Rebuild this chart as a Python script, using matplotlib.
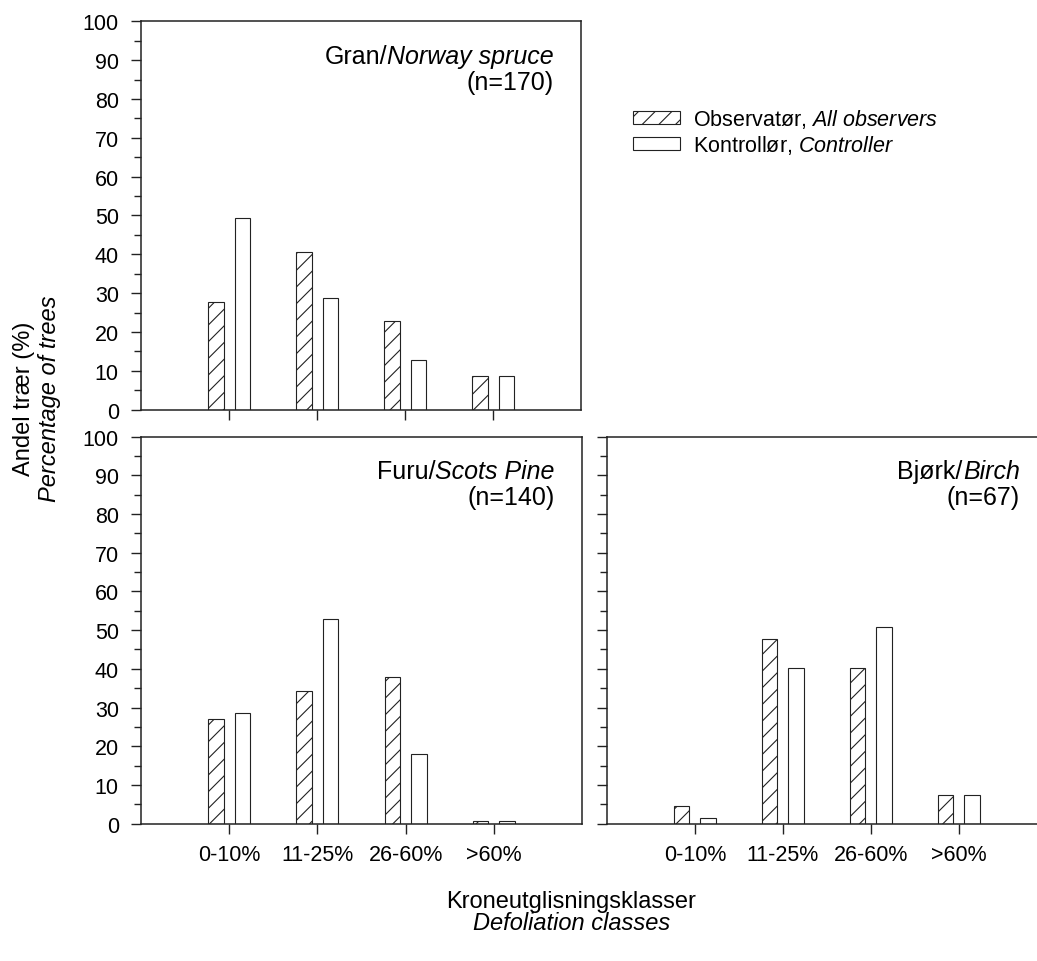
import matplotlib
matplotlib.use("Agg")
import matplotlib.pyplot as plt
from matplotlib.patches import Patch
from matplotlib.ticker import MultipleLocator

plt.rcParams["font.family"] = ["Liberation Sans", "DejaVu Sans"]
plt.rcParams["mathtext.fontset"] = "custom"
plt.rcParams["mathtext.rm"] = "Liberation Sans"
plt.rcParams["mathtext.it"] = "Liberation Sans:italic"
plt.rcParams["hatch.linewidth"] = 0.8
plt.rcParams["hatch.color"] = "#222222"

classes = ["0-10%", "11-25%", "26-60%", ">60%"]

# percentage of trees per defoliation class
spruce_obs = [27.6, 40.6, 22.9, 8.8]
spruce_ctrl = [49.4, 28.8, 12.9, 8.8]
pine_obs = [27.1, 34.3, 37.9, 0.7]
pine_ctrl = [28.6, 52.9, 17.9, 0.7]
birch_obs = [4.5, 47.8, 40.3, 7.5]
birch_ctrl = [1.5, 40.3, 50.7, 7.5]

species = [("Gran/", "Norway spruce", 170),
           ("Furu/", "Scots Pine", 140),
           ("Bjørk/", "Birch", 67)]

EDGE = "#222222"


def draw_panel(ax, obs, ctrl, name, latin, n, show_xlabels, show_ylabels):
    x = range(1, len(classes) + 1)
    ax.bar([i - 0.15 for i in x], obs, width=0.175, facecolor="white",
           edgecolor=EDGE, linewidth=0.8, hatch="//")
    ax.bar([i + 0.15 for i in x], ctrl, width=0.175, facecolor="white",
           edgecolor=EDGE, linewidth=0.8)
    ax.set_xlim(0, 5)
    ax.set_ylim(0, 100)
    ax.set_xticks(list(x))
    ax.set_xticklabels(classes if show_xlabels else [])
    ax.yaxis.set_major_locator(MultipleLocator(10))
    ax.yaxis.set_minor_locator(MultipleLocator(5))
    if not show_ylabels:
        ax.set_yticklabels([])
    ax.tick_params(axis="both", which="major", direction="out", length=7.5,
                   width=1.0, color=EDGE, labelsize=15.5, pad=8.5)
    ax.tick_params(axis="y", which="minor", direction="out", length=5,
                   width=1.0, color=EDGE)
    ax.tick_params(axis="x", pad=7)
    for s in ax.spines.values():
        s.set_linewidth(1.1)
        s.set_color(EDGE)

    # species name: Norwegian part upright, Latin/English part in italics
    t_it = ax.text(0.938, 0.881, latin, transform=ax.transAxes, ha="right",
                   va="bottom", fontsize=18, style="italic")
    ax.annotate(name, xy=(0, 0), xycoords=t_it, ha="right", va="bottom",
                fontsize=18)
    ax.text(0.938, 0.814, f"(n={n})", transform=ax.transAxes, ha="right",
            va="bottom", fontsize=18)


fig = plt.figure(figsize=(10.37, 9.62), dpi=100)
ax_top = fig.add_axes([0.136, 0.5731, 0.4243, 0.4037])
ax_bl = fig.add_axes([0.136, 0.1427, 0.4253, 0.4025])
ax_br = fig.add_axes([0.5853, 0.1427, 0.4243, 0.4025])

draw_panel(ax_top, spruce_obs, spruce_ctrl, *species[0], False, True)
draw_panel(ax_bl, pine_obs, pine_ctrl, *species[1], True, True)
draw_panel(ax_br, birch_obs, birch_ctrl, *species[2], True, False)

handles = [Patch(facecolor="white", edgecolor=EDGE, linewidth=0.8, hatch="//"),
           Patch(facecolor="white", edgecolor=EDGE, linewidth=0.8)]
labels = [r"Observatør, $\mathit{All\ observers}$",
          r"Kontrollør, $\mathit{Controller}$"]
fig.legend(handles, labels, loc="upper left", bbox_to_anchor=(0.610, 0.888),
           frameon=False, fontsize=15.5, handlelength=2.2, handleheight=0.55,
           handletextpad=0.6, labelspacing=0.15, borderpad=0, borderaxespad=0)

fig.text(0.023, 0.585, "Andel trær (%)", rotation=90, ha="center",
         va="center", fontsize=17)
fig.text(0.048, 0.585, "Percentage of trees", rotation=90, ha="center",
         va="center", fontsize=17, style="italic")
fig.text(0.551, 0.062, "Kroneutglisningsklasser", ha="center", va="center",
         fontsize=17)
fig.text(0.551, 0.040, "Defoliation classes", ha="center", va="center",
         fontsize=17, style="italic")

fig.savefig("out.png", dpi=100)
